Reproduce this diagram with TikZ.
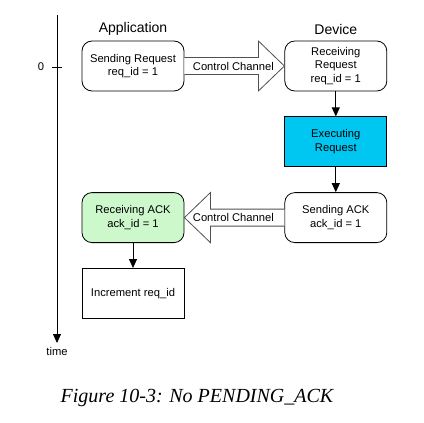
\documentclass[tikz,border=0pt]{standalone}
\usepackage{fontspec}
\setmainfont{Liberation Sans}
\newfontfamily\capfont{Liberation Serif}
\usetikzlibrary{positioning,calc,arrows.meta}
\definecolor{execblue}{HTML}{00C6F2}
\definecolor{ackgreen}{HTML}{CCF8CC}
\definecolor{chanline}{HTML}{505050}
\tikzset{rstep/.style={draw,rounded corners=10pt,line width=.8pt,fill=white,minimum width=102pt,minimum height=50pt,align=center,font=\fontsize{11.2}{13.5}\selectfont},sqstep/.style={draw,line width=.8pt,fill=white,minimum width=102pt,minimum height=50pt,align=center,font=\fontsize{11.2}{13.5}\selectfont},hdr/.style={font=\fontsize{14}{16}\selectfont},flow/.style={draw,line width=.8pt,-{Triangle[length=9pt,width=8pt]}},chan/.style={draw=chanline,line width=.8pt,fill=white},chanlbl/.style={font=\fontsize{11.2}{13.5}\selectfont,inner sep=0pt}}

\begin{document}
\begin{tikzpicture}[x=1pt,y=1pt,node distance=25pt and 100pt]
\useasboundingbox (0,0) rectangle (424,-423);
\node[rstep] (sreq) at (133,-66) {Sending Request\\req\_id = 1};
\node[rstep,right=of sreq] (rreq) {Receiving\\Request\\req\_id = 1};
\node[sqstep,fill=execblue,below=of rreq] (exec) {Executing\\Request};
\node[rstep,below=of exec] (sack) {Sending ACK\\ack\_id = 1};
\node[rstep,fill=ackgreen,left=of sack] (rack) {Receiving ACK\\ack\_id = 1};
\node[sqstep,below=of rack] (inc) {Increment req\_id};
\node[hdr,above=2pt of sreq] (app) {Application};
\node[hdr,above=2pt of rreq] (dev) {Device};
% time axis
\coordinate (t0) at (57,-15);
\coordinate (t1) at (57,-343);
\draw[flow] (t0) -- (t1);
\node[chanlbl,below=4pt of t1] (tlbl) {time};
\draw[line width=.8pt] (52,-67) -- (62,-67);
\node[chanlbl] (zero) at (41,-67) {0};
% control channel arrows
\draw[chan] ($(sreq.east)+(0,8.5)$) -- ($(rreq.west)+(-26,8.5)$) -- ($(rreq.west)+(-26,25)$) -- (rreq.west) -- ($(rreq.west)+(-26,-25)$) -- ($(rreq.west)+(-26,-8.5)$) -- ($(sreq.east)+(0,-8.5)$);
\draw[chan] ($(sack.west)+(0,8.5)$) -- ($(rack.east)+(26,8.5)$) -- ($(rack.east)+(26,25)$) -- (rack.east) -- ($(rack.east)+(26,-25)$) -- ($(rack.east)+(26,-8.5)$) -- ($(sack.west)+(0,-8.5)$);
\node[chanlbl] (ch1) at ($(sreq.east)!.49!(rreq.west)$) {Control Channel};
\node[chanlbl] (ch2) at ($(rack.east)!.49!(sack.west)$) {Control Channel};
\draw[flow] (rreq) -- (exec);
\draw[flow] (exec) -- (sack);
\draw[flow] (rack) -- (inc);
\node[font=\capfont\itshape\fontsize{20}{24}\selectfont] (cap) at (197,-398) {Figure 10-3: No PENDING\_ACK};
\end{tikzpicture}
\end{document}
